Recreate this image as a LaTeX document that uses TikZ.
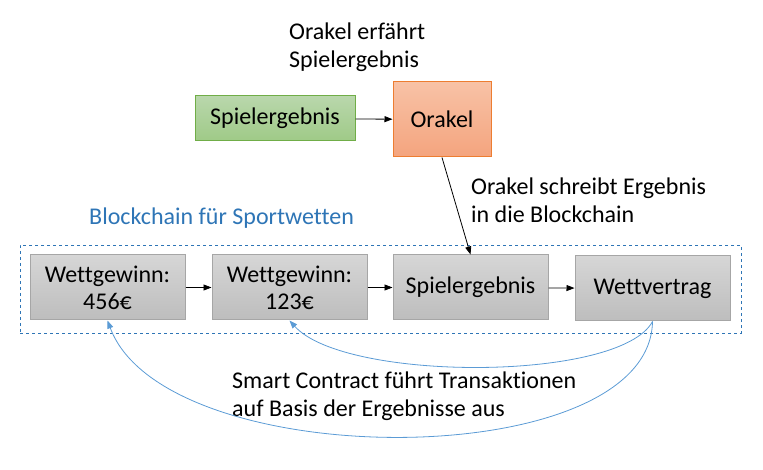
\documentclass[tikz,border=0pt]{standalone}
\usepackage{fontspec}
\setmainfont{Carlito}[Ligatures=CommonOff]
\usetikzlibrary{arrows.meta}
\definecolor{grnB}{HTML}{70AD47}
\definecolor{grnT}{HTML}{B9D7AC}
\definecolor{grnBt}{HTML}{9FCA87}
\definecolor{orB}{HTML}{ED7D31}
\definecolor{orT}{HTML}{F8C2A6}
\definecolor{orBt}{HTML}{F4A47E}
\definecolor{gyB}{HTML}{A6A6A6}
\definecolor{gyT}{HTML}{D6D6D6}
\definecolor{gyBt}{HTML}{BDBDBD}
\definecolor{bl}{HTML}{5B9BD5}
\definecolor{blT}{HTML}{2E75B6}
\tikzset{
  txt/.style={font=\fontsize{24}{28}\selectfont, inner sep=0pt, align=left},
  box/.style={draw, line width=1pt, font=\fontsize{24}{27}\selectfont, align=center, inner sep=0pt, minimum width=#1},
  greenbox/.style={box=160pt, minimum height=45pt, draw=grnB, top color=grnT, bottom color=grnBt},
  orangebox/.style={box=98pt, minimum height=75pt, draw=orB, top color=orT, bottom color=orBt},
  graybox/.style={box=155pt, minimum height=65pt, draw=gyB, top color=gyT, bottom color=gyBt},
  blk/.style={-{Triangle[length=8pt,width=6pt]}, line width=0.8pt, black},
  blu/.style={-{Triangle[length=8pt,width=6pt]}, line width=0.8pt, bl},
}
\begin{document}
\begin{tikzpicture}[x=1pt,y=-1pt]
\useasboundingbox (0,0) rectangle (763,470);
\node[greenbox] (sg) at (275,118.5) {Spielergebnis};
\node[orangebox] (or) at (442,119.5) {Orakel};
\node[txt, anchor=west] (t1) at (289,47) {Orakel erfährt\\Spielergebnis};
\node[txt, anchor=west] (t2) at (471,200) {Orakel schreibt Ergebnis\\in die Blockchain};
\node[txt, anchor=west, text=blT] (t3) at (89,218) {Blockchain für Sportwetten};
\node[draw=blT, dashed, line width=0.8pt, minimum width=721pt, minimum height=88pt, inner sep=0pt] (bc) at (380.5,289) {};
\node[graybox] (w1) at (107.5,287.5) {Wettgewinn:\\456€};
\node[graybox] (w2) at (289.5,287.5) {Wettgewinn:\\123€};
\node[graybox] (sp) at (470.5,287.5) {Spielergebnis};
\node[graybox] (wv) at (652.5,288.5) {Wettvertrag};
\node[txt, anchor=west] (t4) at (232,396) {Smart Contract führt Transaktionen\\auf Basis der Ergebnisse aus};
\draw[blk] (sg) -- (or);
\draw[blk] (or.south) -- (sp.north);
\draw[blk] (w1) -- (w2);
\draw[blk] (w2) -- (sp);
\draw[blk] (sp) -- (wv);
\draw[blu] (wv.south) .. controls (620,382) and (345,382) .. (w2.south);
\draw[blu] (wv.south) .. controls (650,475) and (165,475) .. (w1.south);
\end{tikzpicture}
\end{document}
